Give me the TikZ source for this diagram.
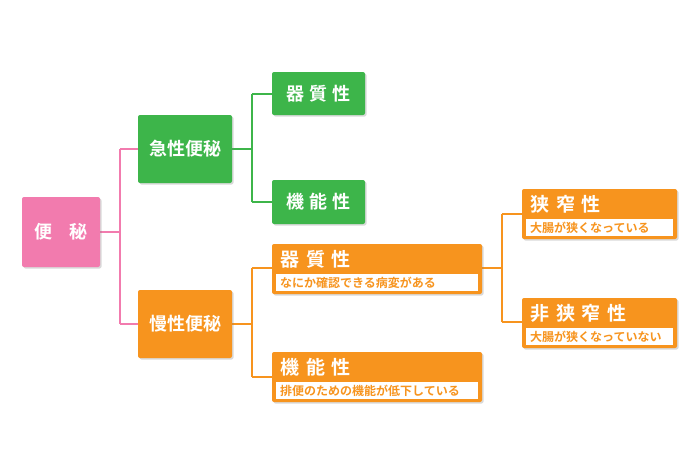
\documentclass[tikz,border=0pt]{standalone}
\usepackage{fontspec}
\setmainfont{Noto Sans CJK JP}[BoldFont={Noto Sans CJK JP Bold}]
\usetikzlibrary{shadows}
\definecolor{pk}{HTML}{F27BAE}
\definecolor{gr}{HTML}{3DB54A}
\definecolor{og}{HTML}{F7941E}
\begin{document}
\begin{tikzpicture}[x=1pt,y=-1pt,
 box/.style={rounded corners=2pt,drop shadow={shadow xshift=1.5pt,shadow yshift=-1.5pt,opacity=.3}},
 tt/.style={text=white,font=\bfseries\fontsize{18}{18}\selectfont},
 ln/.style={line width=2.6pt}]
\useasboundingbox (0,0) rectangle (700,467);
% connectors
\draw[ln,pk] (100,232) -- (120,232) (120,149) -- (120,324) (120,149) -- (138,149) (120,324) -- (138,324);
\draw[ln,gr] (232,149) -- (252,149) (252,94) -- (252,202) (252,94) -- (272,94) (252,202) -- (272,202);
\draw[ln,og] (232,324) -- (252,324) (252,268) -- (252,377) (252,268) -- (272,268) (252,377) -- (272,377);
\draw[ln,og] (482,268) -- (502,268) (502,214) -- (502,322) (502,214) -- (522,214) (502,322) -- (522,322);
% boxes
\fill[box,pk] (22,197) rectangle (100,267);
\node[tt] (a) at (61,232) {便\hspace{0.9em}秘};
\fill[box,gr] (138,115) rectangle (232,183);
\node[tt] (b) at (185,149) {急性便秘};
\fill[box,og] (138,290) rectangle (232,358);
\node[tt] (c) at (185,324) {慢性便秘};
\fill[box,gr] (272,72) rectangle (365,115);
\node[tt] (d) at (318.5,94) {器\hspace{0.3em}質\hspace{0.3em}性};
\fill[box,gr] (272,180) rectangle (365,224);
\node[tt] (e) at (318.5,202) {機\hspace{0.3em}能\hspace{0.3em}性};
% orange with sub
\newcommand\obox[6]{%
 \fill[box,og] (#1,#2) rectangle (#3,#2+50);
 \fill[white] (#1+4,#2+30) rectangle (#3-4,#2+47);
 \node[anchor=west,tt,font=\bfseries\fontsize{19}{19}\selectfont] (#6t) at (#1+5,#2+15) {#4};
 \node[anchor=west,text=og,font=\bfseries\fontsize{12}{12}\selectfont,inner sep=0pt] (#6s) at (#1+8,#2+39) {#5};}
\obox{272}{244}{482}{器\hspace{0.35em}質\hspace{0.35em}性}{なにか確認できる病変がある}{f}
\obox{272}{352}{482}{機\hspace{0.35em}能\hspace{0.35em}性}{排便のための機能が低下している}{g}
\obox{522}{189}{677}{狭\hspace{0.35em}窄\hspace{0.35em}性}{大腸が狭くなっている}{h}
\obox{522}{298}{677}{非\hspace{0.35em}狭\hspace{0.35em}窄\hspace{0.35em}性}{大腸が狭くなっていない}{i}
\end{tikzpicture}
\end{document}
